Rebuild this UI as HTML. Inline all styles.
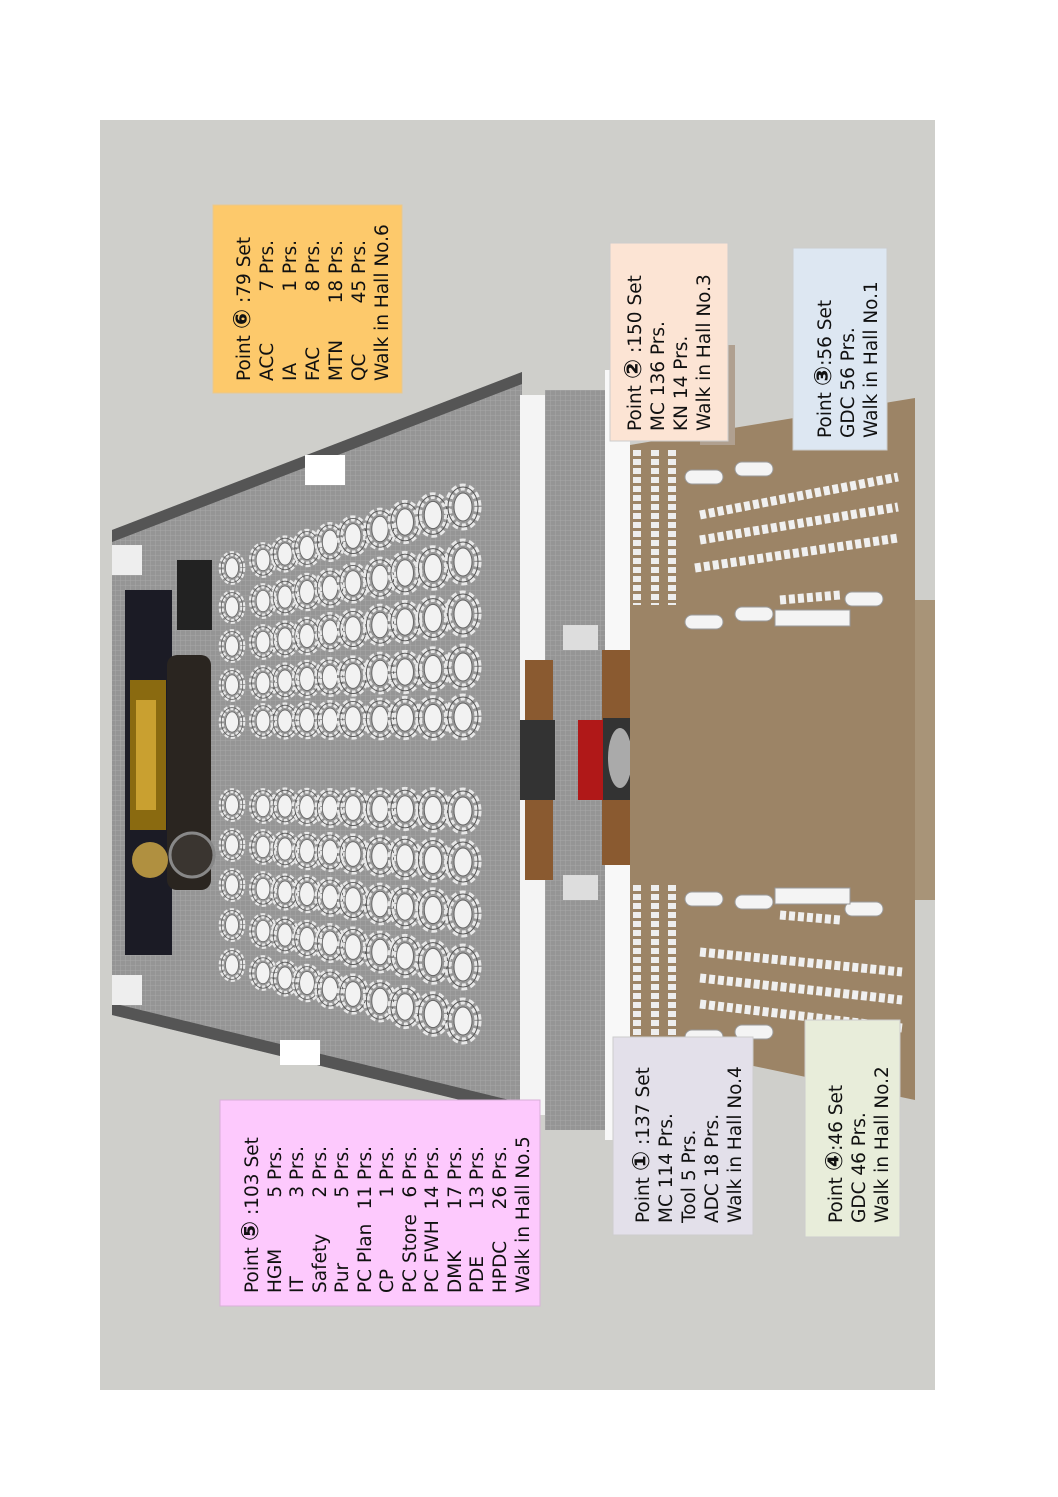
<!DOCTYPE html>
<html><head><meta charset="utf-8"><style>
html,body{margin:0;padding:0;background:#fff;}
svg{display:block;}
text{font-family:"DejaVu Sans","Liberation Sans",sans-serif;font-size:18.5px;fill:#111;}
.c{font-size:24px;font-weight:bold;}
</style></head><body>
<svg width="1058" height="1497" viewBox="0 0 1058 1497" xmlns="http://www.w3.org/2000/svg">
<defs>
<pattern id="grid" width="5" height="5" patternUnits="userSpaceOnUse">
<rect width="5" height="5" fill="#959595"/><path d="M0 0H5M0 0V5" stroke="#a8a8a8" stroke-width="1"/>
</pattern>
<g id="tb">
<ellipse cx="0" cy="0" rx="15" ry="20" fill="none" stroke="#e8e8e8" stroke-width="7" stroke-dasharray="5 3"/>
<ellipse cx="0" cy="0" rx="15" ry="20" fill="none" stroke="#555" stroke-width="1"/>
<ellipse cx="0" cy="0" rx="9" ry="14" fill="#f2f2f2" stroke="#666" stroke-width="1"/>
</g>
</defs>
<rect x="100" y="120" width="835" height="1270" fill="#cfcfcb"/>
<polygon points="112,530 522,372 522,1115 112,1015" fill="url(#grid)"/>
<polygon points="112,530 522,372 522,384 112,542" fill="#555"/>
<polygon points="112,1015 522,1115 522,1103 112,1003" fill="#555"/>
<rect x="112" y="545" width="30" height="30" fill="#eee"/>
<rect x="112" y="975" width="30" height="30" fill="#eee"/>
<rect x="305" y="455" width="40" height="30" fill="#fff"/>
<rect x="280" y="1040" width="40" height="25" fill="#fff"/>
<rect x="125" y="590" width="47" height="365" fill="#1b1b25"/>
<rect x="130" y="680" width="36" height="150" fill="#8a6a10"/>
<rect x="136" y="700" width="20" height="110" fill="#c9a030"/>
<rect x="167" y="655" width="44" height="235" rx="10" fill="#2a2520"/>
<circle cx="192" cy="855" r="22" fill="#3a3530" stroke="#888" stroke-width="3"/>
<circle cx="150" cy="860" r="18" fill="#b09040"/>
<rect x="177" y="560" width="35" height="70" fill="#222"/>
<g>
<use href="#tb" transform="translate(232,568) scale(.72)"/><use href="#tb" transform="translate(232,607) scale(.72)"/><use href="#tb" transform="translate(232,646) scale(.72)"/><use href="#tb" transform="translate(232,685) scale(.72)"/><use href="#tb" transform="translate(232,722) scale(.72)"/>
<use href="#tb" transform="translate(232,805) scale(.72)"/><use href="#tb" transform="translate(232,845) scale(.72)"/><use href="#tb" transform="translate(232,885) scale(.72)"/><use href="#tb" transform="translate(232,925) scale(.72)"/><use href="#tb" transform="translate(232,965) scale(.72)"/>

<use href="#tb" transform="translate(263,560) scale(.76)"/><use href="#tb" transform="translate(263,601) scale(.76)"/><use href="#tb" transform="translate(263,642) scale(.76)"/><use href="#tb" transform="translate(263,683) scale(.76)"/><use href="#tb" transform="translate(263,721) scale(.76)"/>
<use href="#tb" transform="translate(263,806) scale(.76)"/><use href="#tb" transform="translate(263,847) scale(.76)"/><use href="#tb" transform="translate(263,889) scale(.76)"/><use href="#tb" transform="translate(263,931) scale(.76)"/><use href="#tb" transform="translate(263,973) scale(.76)"/>

<use href="#tb" transform="translate(285,554) scale(.79)"/><use href="#tb" transform="translate(285,597) scale(.79)"/><use href="#tb" transform="translate(285,639) scale(.79)"/><use href="#tb" transform="translate(285,681) scale(.79)"/><use href="#tb" transform="translate(285,721) scale(.79)"/>
<use href="#tb" transform="translate(285,806) scale(.79)"/><use href="#tb" transform="translate(285,849) scale(.79)"/><use href="#tb" transform="translate(285,892) scale(.79)"/><use href="#tb" transform="translate(285,935) scale(.79)"/><use href="#tb" transform="translate(285,978) scale(.79)"/>

<use href="#tb" transform="translate(307,548) scale(.82)"/><use href="#tb" transform="translate(307,592) scale(.82)"/><use href="#tb" transform="translate(307,636) scale(.82)"/><use href="#tb" transform="translate(307,679) scale(.82)"/><use href="#tb" transform="translate(307,720) scale(.82)"/>
<use href="#tb" transform="translate(307,807) scale(.82)"/><use href="#tb" transform="translate(307,851) scale(.82)"/><use href="#tb" transform="translate(307,894) scale(.82)"/><use href="#tb" transform="translate(307,939) scale(.82)"/><use href="#tb" transform="translate(307,983) scale(.82)"/>

<use href="#tb" transform="translate(330,542) scale(.85)"/><use href="#tb" transform="translate(330,588) scale(.85)"/><use href="#tb" transform="translate(330,632) scale(.85)"/><use href="#tb" transform="translate(330,677) scale(.85)"/><use href="#tb" transform="translate(330,720) scale(.85)"/>
<use href="#tb" transform="translate(330,808) scale(.85)"/><use href="#tb" transform="translate(330,852) scale(.85)"/><use href="#tb" transform="translate(330,897) scale(.85)"/><use href="#tb" transform="translate(330,943) scale(.85)"/><use href="#tb" transform="translate(330,989) scale(.85)"/>

<use href="#tb" transform="translate(353,536) scale(.88)"/><use href="#tb" transform="translate(353,583) scale(.88)"/><use href="#tb" transform="translate(353,629) scale(.88)"/><use href="#tb" transform="translate(353,676) scale(.88)"/><use href="#tb" transform="translate(353,719) scale(.88)"/>
<use href="#tb" transform="translate(353,808) scale(.88)"/><use href="#tb" transform="translate(353,854) scale(.88)"/><use href="#tb" transform="translate(353,900) scale(.88)"/><use href="#tb" transform="translate(353,947) scale(.88)"/><use href="#tb" transform="translate(353,994) scale(.88)"/>

<use href="#tb" transform="translate(380,529) scale(.91)"/><use href="#tb" transform="translate(380,578) scale(.91)"/><use href="#tb" transform="translate(380,625) scale(.91)"/><use href="#tb" transform="translate(380,673) scale(.91)"/><use href="#tb" transform="translate(380,719) scale(.91)"/>
<use href="#tb" transform="translate(380,809) scale(.91)"/><use href="#tb" transform="translate(380,856) scale(.91)"/><use href="#tb" transform="translate(380,904) scale(.91)"/><use href="#tb" transform="translate(380,952) scale(.91)"/><use href="#tb" transform="translate(380,1001) scale(.91)"/>

<use href="#tb" transform="translate(405,522) scale(.94)"/><use href="#tb" transform="translate(405,573) scale(.94)"/><use href="#tb" transform="translate(405,622) scale(.94)"/><use href="#tb" transform="translate(405,672) scale(.94)"/><use href="#tb" transform="translate(405,718) scale(.94)"/>
<use href="#tb" transform="translate(405,809) scale(.94)"/><use href="#tb" transform="translate(405,858) scale(.94)"/><use href="#tb" transform="translate(405,907) scale(.94)"/><use href="#tb" transform="translate(405,956) scale(.94)"/><use href="#tb" transform="translate(405,1007) scale(.94)"/>

<use href="#tb" transform="translate(433,515) scale(.97)"/><use href="#tb" transform="translate(433,568) scale(.97)"/><use href="#tb" transform="translate(433,618) scale(.97)"/><use href="#tb" transform="translate(433,669) scale(.97)"/><use href="#tb" transform="translate(433,718) scale(.97)"/>
<use href="#tb" transform="translate(433,810) scale(.97)"/><use href="#tb" transform="translate(433,860) scale(.97)"/><use href="#tb" transform="translate(433,910) scale(.97)"/><use href="#tb" transform="translate(433,962) scale(.97)"/><use href="#tb" transform="translate(433,1014) scale(.97)"/>

<use href="#tb" transform="translate(463,507)"/><use href="#tb" transform="translate(463,562)"/><use href="#tb" transform="translate(463,614)"/><use href="#tb" transform="translate(463,667)"/><use href="#tb" transform="translate(463,717)"/>
<use href="#tb" transform="translate(463,811)"/><use href="#tb" transform="translate(463,862)"/><use href="#tb" transform="translate(463,914)"/><use href="#tb" transform="translate(463,967)"/><use href="#tb" transform="translate(463,1021)"/>
</g>
<rect x="520" y="395" width="25" height="720" fill="#f4f4f4"/>
<rect x="545" y="390" width="60" height="740" fill="url(#grid)"/>
<rect x="605" y="370" width="25" height="770" fill="#f8f8f8"/>
<rect x="525" y="660" width="28" height="80" fill="#8a5a30"/>
<rect x="525" y="800" width="28" height="80" fill="#8a5a30"/>
<rect x="520" y="720" width="35" height="80" fill="#333"/>
<rect x="578" y="720" width="25" height="80" fill="#b01818"/>
<rect x="602" y="650" width="30" height="70" fill="#8a5a30"/>
<rect x="602" y="800" width="30" height="65" fill="#8a5a30"/>
<rect x="603" y="718" width="32" height="82" fill="#333"/>
<ellipse cx="620" cy="758" rx="12" ry="30" fill="#aaa"/>
<rect x="563" y="625" width="35" height="25" fill="#ddd"/>
<rect x="563" y="875" width="35" height="25" fill="#ddd"/>
<polygon points="630,445 915,398 915,1100 630,1040" fill="#9c8466"/>
<rect x="915" y="600" width="20" height="300" fill="#a89478"/>
<rect x="700" y="345" width="35" height="100" fill="#b0a090"/>
<g stroke="#eee" stroke-width="8" stroke-dasharray="6 3">
<path d="M637 450V605M655 450V605M672 450V605"/>
<path d="M637 885V1035M655 885V1035M672 885V1035"/>
</g>
<g stroke="#f0f0f0" stroke-width="9" stroke-dasharray="6 3">
<path d="M700 515L898 477M700 540L898 507M695 568L898 538"/>
<path d="M700 952L902 972M700 978L902 1000M700 1004L902 1028"/>
<path d="M780 600L840 595M780 915L840 920"/>
</g>
<g fill="#f4f4f4" stroke="#999">
<rect x="685" y="470" width="38" height="14" rx="7"/><rect x="735" y="462" width="38" height="14" rx="7"/>
<rect x="685" y="1030" width="38" height="14" rx="7"/><rect x="735" y="1025" width="38" height="14" rx="7"/>
<rect x="685" y="615" width="38" height="14" rx="7"/><rect x="735" y="607" width="38" height="14" rx="7"/><rect x="845" y="592" width="38" height="14" rx="7"/>
<rect x="685" y="892" width="38" height="14" rx="7"/><rect x="735" y="895" width="38" height="14" rx="7"/><rect x="845" y="902" width="38" height="14" rx="7"/>
<rect x="775" y="610" width="75" height="16"/><rect x="775" y="888" width="75" height="16"/>
</g>
<rect x="213" y="205" width="189" height="188" fill="#fdc96b" stroke="#e8c890"/>
<rect x="610" y="243" width="118" height="198" fill="#fce4d4" stroke="#ccc"/>
<rect x="793" y="248" width="94" height="202" fill="#dde7f2" stroke="#ccc"/>
<rect x="220" y="1100" width="320" height="206" fill="#fdc9fd" stroke="#d8b0d8"/>
<rect x="613" y="1037" width="140" height="198" fill="#e3e0ea" stroke="#ccc"/>
<rect x="805" y="1020" width="95" height="217" fill="#e8edda" stroke="#ccc"/>

<g transform="rotate(-90)">
<text x="-381" y="250">Point <tspan class="c">⑥</tspan> :79 Set</text>
<text x="-381" y="273">ACC</text><text x="-381" y="296">IA</text><text x="-381" y="319">FAC</text><text x="-381" y="342">MTN</text><text x="-381" y="365">QC</text>
<text x="-381" y="388">Walk in Hall No.6</text>
<text x="-240" y="273" text-anchor="end">7 Prs.</text><text x="-240" y="296" text-anchor="end">1 Prs.</text><text x="-240" y="319" text-anchor="end">8 Prs.</text><text x="-240" y="342" text-anchor="end">18 Prs.</text><text x="-240" y="365" text-anchor="end">45 Prs.</text>
<text x="-431" y="641">Point <tspan class="c">②</tspan> :150 Set</text>
<text x="-431" y="664">MC 136 Prs.</text><text x="-431" y="687">KN 14 Prs.</text><text x="-431" y="710">Walk in Hall No.3</text>
<text x="-438" y="831">Point <tspan class="c">③</tspan>:56 Set</text>
<text x="-438" y="854">GDC 56 Prs.</text><text x="-438" y="877">Walk in Hall No.1</text>
<text x="-1293" y="258">Point <tspan class="c">⑤</tspan> :103 Set</text>
<text x="-1293" y="281">HGM</text><text x="-1293" y="303">IT</text><text x="-1293" y="326">Safety</text><text x="-1293" y="348">Pur</text><text x="-1293" y="371">PC Plan</text><text x="-1293" y="393">CP</text><text x="-1293" y="416">PC Store</text><text x="-1293" y="438">PC FWH</text><text x="-1293" y="461">DMK</text><text x="-1293" y="483">PDE</text><text x="-1293" y="506">HPDC</text><text x="-1293" y="529">Walk in Hall No.5</text>
<g text-anchor="end">
<text x="-1146" y="281">5 Prs.</text><text x="-1146" y="303">3 Prs.</text><text x="-1146" y="326">2 Prs.</text><text x="-1146" y="348">5 Prs.</text><text x="-1146" y="371">11 Prs.</text><text x="-1146" y="393">1 Prs.</text><text x="-1146" y="416">6 Prs.</text><text x="-1146" y="438">14 Prs.</text><text x="-1146" y="461">17 Prs.</text><text x="-1146" y="483">13 Prs.</text><text x="-1146" y="506">26 Prs.</text>
</g>
<text x="-1223" y="649">Point <tspan class="c">①</tspan> :137 Set</text>
<text x="-1223" y="672">MC 114 Prs.</text><text x="-1223" y="695">Tool 5 Prs.</text><text x="-1223" y="718">ADC 18 Prs.</text><text x="-1223" y="741">Walk in Hall No.4</text>
<text x="-1223" y="842">Point <tspan class="c">④</tspan>:46 Set</text>
<text x="-1223" y="865">GDC 46 Prs.</text><text x="-1223" y="888">Walk in Hall No.2</text>
</g>
</svg>
</body></html>
